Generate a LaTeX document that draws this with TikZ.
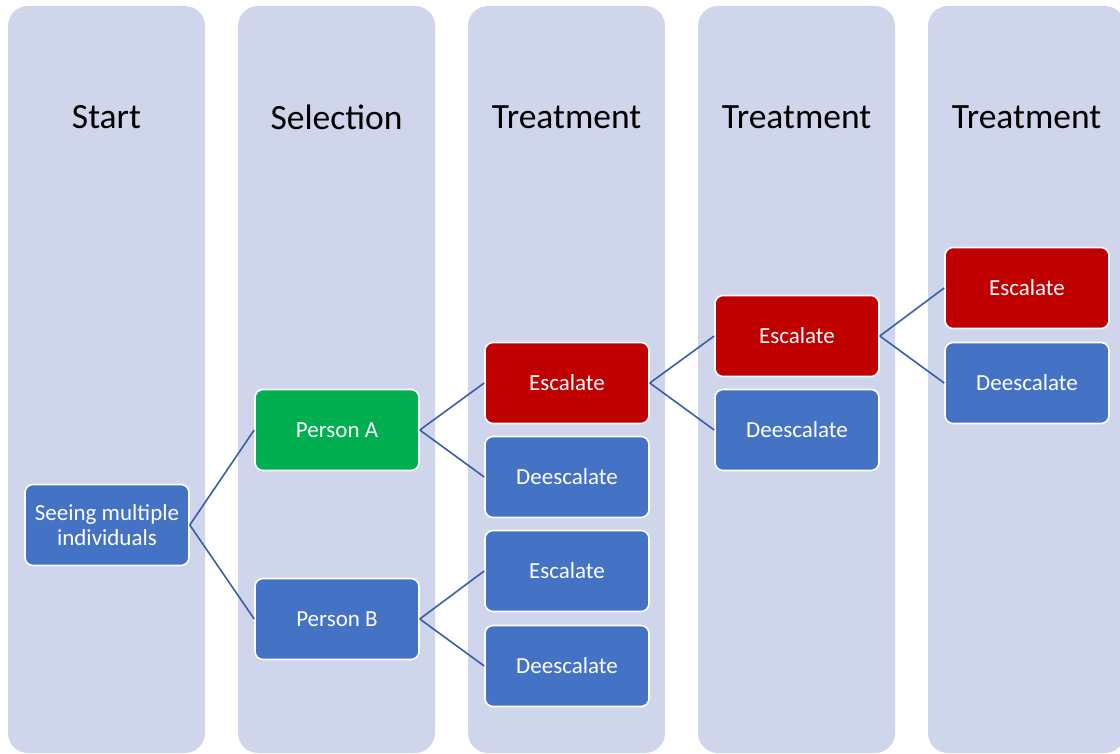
\documentclass[tikz,border=0pt]{standalone}
\usepackage{fontspec}
\setmainfont{Carlito}
\definecolor{colbg}{HTML}{CFD5EA}
\definecolor{boxblue}{HTML}{4472C4}
\definecolor{boxred}{HTML}{C00000}
\definecolor{boxgreen}{HTML}{00B050}
\definecolor{linkblue}{HTML}{3A5DAA}
\tikzset{
  column/.style={fill=colbg, draw=none, rounded corners=20pt},
  coltitle/.style={font=\fontsize{35.5}{42}\selectfont, text=black, anchor=center},
  box/.style={rectangle, rounded corners=8pt, draw=white, line width=1.6pt,
    minimum width=164pt, minimum height=81pt, text=white, align=center,
    font=\fontsize{23}{24.5}\selectfont, inner sep=2pt},
  bluebox/.style={box, fill=boxblue},
  redbox/.style={box, fill=boxred},
  greenbox/.style={box, fill=boxgreen},
  link/.style={draw=linkblue, line width=1.6pt}
}
\begin{document}
\begin{tikzpicture}[x=1pt, y=-1pt]
\useasboundingbox (0,0) rectangle (1120,754);
\clip (0,0) rectangle (1120,754);
% columns
\foreach \cx/\name in {8/c1,238/c2,468/c3,698/c4,928/c5}{
  \path[column] (\cx,6) rectangle (\cx+197,753);
}
\node[coltitle] (t1) at (106.5,117) {Start};
\node[coltitle] (t2) at (336.5,117) {Selection};
\node[coltitle] (t3) at (566.5,117) {Treatment};
\node[coltitle] (t4) at (796.5,117) {Treatment};
\node[coltitle] (t5) at (1026.5,117) {Treatment};
% nodes
\node[bluebox] (seeing) at (107,525) {Seeing multiple\\individuals};
\node[greenbox] (pa) at (337,430) {Person A};
\node[bluebox] (pb) at (337,619) {Person B};
\node[redbox] (e1) at (567,383) {Escalate};
\node[bluebox] (d1) at (567,477) {Deescalate};
\node[bluebox] (e2) at (567,571) {Escalate};
\node[bluebox] (d2) at (567,666) {Deescalate};
\node[redbox] (e3) at (797,336) {Escalate};
\node[bluebox] (d3) at (797,430) {Deescalate};
\node[redbox] (e4) at (1027,288) {Escalate};
\node[bluebox] (d4) at (1027,383) {Deescalate};
% connectors
\draw[link] (seeing.east) -- (pa.west);
\draw[link] (seeing.east) -- (pb.west);
\draw[link] (pa.east) -- (e1.west);
\draw[link] (pa.east) -- (d1.west);
\draw[link] (pb.east) -- (e2.west);
\draw[link] (pb.east) -- (d2.west);
\draw[link] (e1.east) -- (e3.west);
\draw[link] (e1.east) -- (d3.west);
\draw[link] (e3.east) -- (e4.west);
\draw[link] (e3.east) -- (d4.west);
\end{tikzpicture}
\end{document}
